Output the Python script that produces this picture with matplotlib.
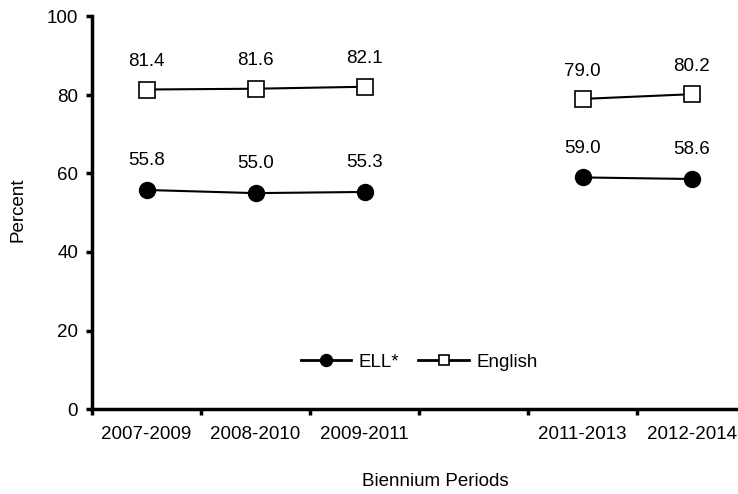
import numpy as np
import matplotlib
matplotlib.use("Agg")
import matplotlib.pyplot as plt

plt.rcParams['font.family'] = ['Liberation Sans', 'DejaVu Sans']

# Data
periods = ['2007-2009', '2008-2010', '2009-2011', '', '2011-2013', '2012-2014']
ell = [55.8, 55.0, 55.3, np.nan, 59.0, 58.6]
english = [81.4, 81.6, 82.1, np.nan, 79.0, 80.2]

fs = 13.5

fig = plt.figure(figsize=(7.38, 4.94), dpi=100)
ax = fig.add_axes([92/738, 1 - 409/494, (746-92)/738, (409-16.5)/494])

x = np.arange(len(periods))
ax.plot(x, ell, color='black', lw=1.5, marker='o', ms=11.5,
        mfc='black', mec='black', label='ELL*')
ax.plot(x, english, color='black', lw=1.5, marker='s', ms=11.5,
        mfc='white', mec='black', mew=1.2, label='English')

# value labels
for xi, v in zip(x, ell):
    if not np.isnan(v):
        ax.annotate(f'{v:.1f}', (xi, v), xytext=(0, 21), textcoords='offset points',
                    ha='center', va='center', fontsize=fs)
for xi, v in zip(x, english):
    if not np.isnan(v):
        ax.annotate(f'{v:.1f}', (xi, v), xytext=(0, 20), textcoords='offset points',
                    ha='center', va='center', fontsize=fs)

ax.set_xlim(-0.5, 5.5)
ax.set_ylim(0, 100)
ax.set_yticks([0, 20, 40, 60, 80, 100])
ax.set_xticks(np.arange(-0.5, 6, 1))
ax.set_xticklabels([])
ax.set_xticks(x, minor=True)
ax.set_xticklabels(periods, minor=True, fontsize=fs)
ax.tick_params(axis='x', which='minor', length=0, pad=12)
ax.tick_params(axis='x', which='major', direction='out', length=4, width=2.5)
ax.tick_params(axis='y', direction='out', length=4, width=2.5, labelsize=fs, pad=6)

for s in ['top', 'right']:
    ax.spines[s].set_visible(False)
ax.spines['left'].set_linewidth(2.5)
ax.spines['bottom'].set_linewidth(2.5)

leg = ax.legend(loc='center', bbox_to_anchor=(419/738, 1 - 362/494),
                bbox_transform=fig.transFigure, ncol=2, frameon=False,
                fontsize=fs, handlelength=2.7, columnspacing=1.05, handletextpad=0.37)
leg.legend_handles[0].set_markersize(8.6)
leg.legend_handles[1].set_markersize(7.4)
for h in leg.legend_handles:
    h.set_linewidth(2)

fig.text(18/738, 1 - 210/494, 'Percent', rotation=90, ha='center', va='center', fontsize=fs)
fig.text(435/738, 1 - 481/494, 'Biennium Periods', ha='center', va='center', fontsize=fs)

fig.savefig('out.png', dpi=100)
